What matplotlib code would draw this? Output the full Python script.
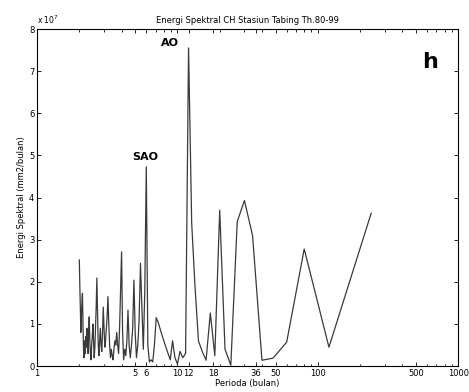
import numpy as np
import matplotlib.pyplot as plt

# harmonic number k -> period 240/k months (20 years of monthly data)
k = np.arange(1, 121)

# spectral energy for k = 1 .. 120, in units of 1e7 mm2/bulan
energy = [
    3.63, 0.45, 2.78, 0.57, 0.19, 0.14, 3.10, 3.93, 3.43, 0.02,   # k 1-10
    0.40, 3.70, 0.25, 1.26, 0.14, 0.35, 0.60, 1.90, 3.40, 7.55,   # k 11-20
    0.30, 0.20, 0.35, 0.05, 0.20, 0.60, 0.15, 0.30, 0.45, 0.60,   # k 21-30
    0.75, 0.90, 1.05, 1.15, 0.50, 0.10, 0.15, 0.10, 0.50, 4.73,   # k 31-40
    1.80, 0.40, 1.40, 2.44, 1.10, 0.50, 0.20, 0.80, 2.04, 0.90,   # k 41-50
    0.50, 0.20, 0.50, 1.33, 0.60, 0.25, 0.40, 0.15, 0.80, 2.71,   # k 51-60
    1.80, 0.90, 0.30, 0.50, 0.80, 0.50, 0.60, 0.40, 0.15, 0.25,   # k 61-70
    0.40, 0.20, 0.50, 1.00, 1.65, 1.20, 0.90, 0.60, 0.45, 0.90,   # k 71-80
    1.40, 0.80, 0.35, 0.50, 0.90, 0.60, 0.25, 0.50, 1.30, 2.09,   # k 81-90
    1.40, 0.90, 0.45, 0.20, 0.60, 1.00, 0.70, 0.50, 0.15, 0.30,   # k 91-100
    0.60, 1.17, 0.80, 0.30, 0.50, 0.90, 0.45, 0.70, 0.30, 0.60,   # k 101-110
    0.20, 0.40, 1.00, 1.73, 1.50, 1.20, 0.80, 1.40, 1.90, 2.52,   # k 111-120
]
period = 240.0 / k

xticks = [1, 5, 6, 10, 12, 18, 36, 50, 100, 500, 1000]
yticks = [0, 1, 2, 3, 4, 5, 6, 7, 8]

fig = plt.figure(figsize=(4.69, 3.92), dpi=100)
ax = fig.add_axes([0.079, 0.066, 0.898, 0.860])

ax.plot(period, energy, color="#3a3a3a", linewidth=0.9)

ax.set_xscale("log")
ax.set_xlim(1, 1000)
ax.set_ylim(0, 8)
ax.set_xticks(xticks)
ax.set_xticklabels([str(t) for t in xticks])
ax.set_yticks(yticks)
ax.tick_params(which="both", direction="in", top=True, right=True,
               labelsize=6, pad=2, width=0.6)
ax.tick_params(which="major", length=3)
ax.tick_params(which="minor", length=1.8)
for s in ax.spines.values():
    s.set_linewidth(0.8)

ax.set_title("Energi Spektral CH Stasiun Tabing Th.80-99", fontsize=6, pad=4)
ax.set_xlabel("Perioda (bulan)", fontsize=6, labelpad=1)
ax.set_ylabel("Energi Spektral (mm2/bulan)", fontsize=6, labelpad=2)
ax.text(0.0, 1.01, "x 10$^7$", transform=ax.transAxes, fontsize=5.5,
        ha="left", va="bottom")

ax.text(8.9, 7.67, "AO", fontsize=8, fontweight="bold", ha="center", va="center")
ax.text(5.9, 4.96, "SAO", fontsize=8, fontweight="bold", ha="center", va="center")
ax.text(634, 7.22, "h", fontsize=16, fontweight="bold", ha="center", va="center")

fig.savefig("out.png", dpi=100)
